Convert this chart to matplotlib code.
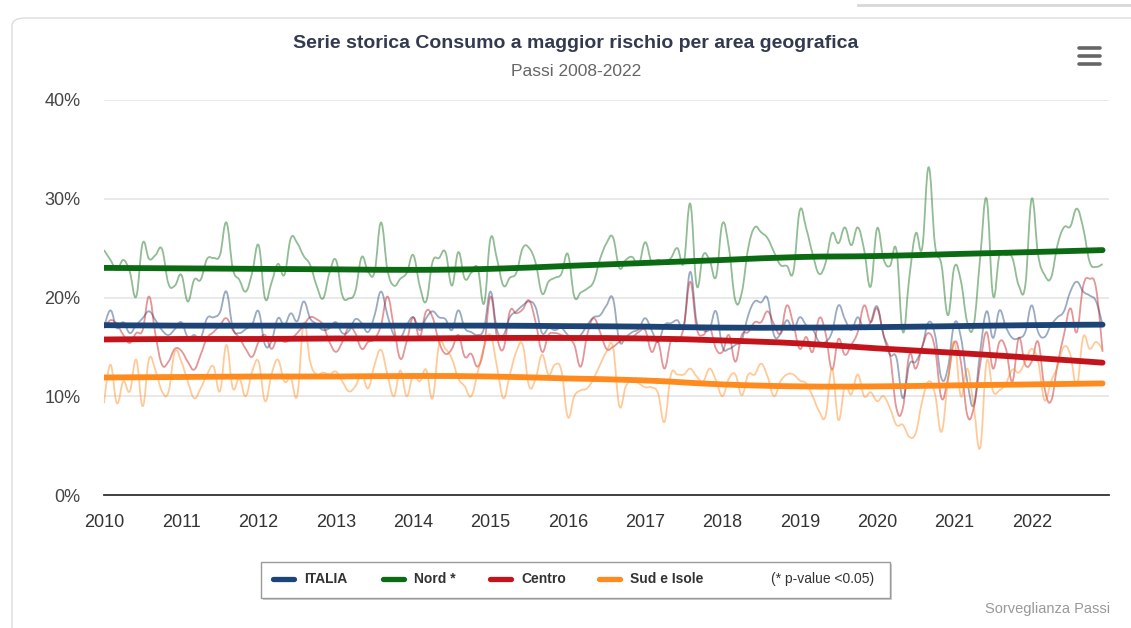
import numpy as np
import matplotlib
matplotlib.use("Agg")
import matplotlib.pyplot as plt
from matplotlib.lines import Line2D
from matplotlib.patches import FancyBboxPatch, Rectangle, PathPatch
from matplotlib.path import Path

plt.rcParams['font.family'] = ['Liberation Sans', 'DejaVu Sans']

# ---------------- data (monthly, Jan 2010 - Dec 2022, %) ----------------
years = [2010, 2011, 2012, 2013, 2014, 2015, 2016, 2017, 2018, 2019, 2020, 2021, 2022]
year_labels = [str(y) for y in years]
series_names = ["ITALIA", "Nord *", "Centro", "Sud e Isole"]

italia = [
    16.9, 18.7, 16.9, 17.5, 16.4, 17.2, 17.9, 18.6, 17.7, 16.7, 16.2, 16.8,
    17.5, 16.0, 16.2, 15.9, 17.9, 18.0, 18.5, 20.6, 16.9, 16.4, 16.8, 17.3,
    18.6, 15.2, 15.6, 17.9, 17.2, 18.4, 17.6, 19.6, 17.9, 17.3, 16.7, 16.9,
    17.5, 16.4, 16.6, 17.8, 17.4, 16.5, 18.2, 20.6, 18.2, 16.2, 15.9, 17.2,
    18.0, 16.7, 17.9, 18.6, 18.0, 17.8, 16.7, 18.7, 16.9, 16.5, 16.2, 16.9,
    20.6, 16.7, 16.2, 18.0, 18.6, 19.2, 19.6, 19.0, 16.4, 16.9, 16.7, 16.9,
    16.2, 15.7, 16.2, 17.2, 18.0, 18.2, 19.2, 19.9, 15.6, 16.0, 16.5, 16.8,
    17.9, 16.7, 15.5, 17.2, 17.4, 17.7, 17.2, 22.6, 17.5, 16.7, 16.8, 18.6,
    15.0, 14.8, 15.2, 15.7, 18.2, 19.6, 19.5, 19.9, 16.2, 16.3, 17.7, 16.7,
    18.0, 17.2, 16.8, 15.5, 15.5, 16.5, 19.2, 17.8, 16.7, 18.0, 16.8, 17.5,
    19.1, 16.2, 14.2, 13.9, 9.8, 13.2, 13.5, 15.0, 17.5, 16.2, 11.8, 12.9,
    17.4, 16.0, 11.5, 9.1, 14.5, 18.6, 15.9, 18.7, 17.0, 15.9, 15.9, 16.5,
    19.2, 16.5, 16.0, 17.2, 18.0, 18.6, 20.6, 21.6, 20.6, 20.2, 19.6, 17.2,
]
nord = [
    24.8, 23.8, 22.8, 23.8, 22.6, 20.1, 25.5, 23.9, 24.3, 24.9, 21.4, 21.2,
    22.3, 19.6, 21.8, 21.8, 23.9, 24.0, 24.3, 27.6, 22.9, 21.8, 20.6, 22.5,
    25.3, 19.9, 21.5, 23.4, 22.3, 26.0, 25.5, 24.2, 23.3, 21.2, 19.9, 22.5,
    23.8, 20.2, 19.9, 20.6, 24.1, 22.6, 22.6, 27.6, 22.8, 21.2, 21.9, 22.5,
    24.3, 21.2, 19.6, 23.6, 24.0, 24.6, 21.2, 24.6, 21.9, 22.5, 23.0, 19.4,
    26.0, 23.9, 21.2, 22.0, 22.5, 25.0, 25.0, 23.5, 20.4, 21.6, 22.0, 22.4,
    24.4, 20.1, 20.5, 20.9, 21.6, 23.9, 25.5, 26.1, 23.0, 23.8, 24.1, 23.3,
    25.6, 23.6, 23.8, 23.6, 24.0, 25.0, 23.5, 29.5, 21.2, 24.3, 23.8, 22.1,
    27.5, 25.0, 19.7, 20.5, 25.0, 27.1, 26.6, 26.0, 24.6, 23.3, 23.2, 22.6,
    28.8, 27.0, 24.4, 22.4, 23.5, 26.5, 25.5, 27.1, 25.3, 27.1, 24.8, 21.1,
    27.0, 23.9, 23.2, 24.8, 16.5, 22.0, 26.5, 25.0, 33.2, 25.3, 23.3, 18.2,
    23.1, 21.7, 17.5, 17.2, 24.0, 30.0, 20.2, 24.3, 24.3, 24.0, 21.2, 21.2,
    30.0, 24.3, 22.3, 22.0, 25.3, 27.1, 27.2, 29.0, 27.0, 23.6, 23.1, 23.4,
]
centro = [
    16.9, 17.7, 17.3, 16.2, 15.4, 16.4, 16.7, 20.1, 16.2, 13.2, 13.5, 14.8,
    14.6, 13.5, 12.7, 14.2, 15.9, 16.5, 17.2, 17.9, 16.7, 15.9, 14.8, 14.0,
    15.5, 16.2, 14.8, 16.0, 15.5, 15.8, 16.4, 17.2, 18.0, 17.8, 17.2, 15.5,
    14.5, 15.5, 17.0, 16.4, 14.8, 15.5, 15.8, 17.2, 20.1, 17.0, 13.8, 15.6,
    18.0, 16.0, 18.6, 18.0, 15.5, 14.3, 14.8, 16.2, 14.0, 14.3, 13.0, 15.0,
    20.1, 16.0, 14.8, 18.6, 18.4, 18.8, 19.7, 17.5, 14.5, 16.2, 16.4, 16.2,
    15.9, 15.2, 13.0, 16.2, 17.9, 16.5, 14.8, 15.0, 15.5, 15.9, 16.0, 16.5,
    16.7, 14.5, 15.5, 12.8, 15.6, 15.6, 17.0, 21.6, 16.9, 16.2, 17.0, 14.8,
    14.5, 16.2, 13.5, 16.2, 16.5, 17.5, 17.5, 18.6, 17.3, 16.4, 19.2, 17.3,
    14.8, 16.0, 14.5, 17.9, 16.4, 12.7, 15.8, 14.2, 15.2, 16.5, 19.2, 17.5,
    18.9, 16.2, 14.2, 8.8, 8.8, 14.2, 12.8, 15.0, 16.4, 14.8, 9.8, 11.8,
    15.5, 13.5, 8.1, 8.8, 13.2, 16.5, 12.8, 15.5, 14.8, 11.5, 15.9, 13.2,
    13.5, 15.5, 10.8, 9.5, 13.2, 16.2, 18.9, 16.5, 21.2, 21.9, 20.9, 14.5,
]
sud = [
    9.3, 13.2, 9.3, 11.5, 10.5, 13.7, 9.0, 13.8, 12.6, 10.5, 10.4, 14.5,
    13.5, 11.5, 9.8, 10.8, 12.2, 13.0, 10.5, 15.2, 10.8, 11.8, 10.0, 12.5,
    13.5, 9.5, 12.2, 13.7, 11.5, 11.8, 10.1, 17.4, 13.5, 12.2, 12.4, 12.2,
    12.5, 11.5, 10.5, 11.0, 12.2, 10.8, 13.2, 14.7, 12.2, 10.0, 12.6, 10.0,
    12.2, 11.5, 12.7, 9.8, 15.2, 14.8, 13.8, 11.8, 11.0, 10.0, 12.4, 15.0,
    16.2, 13.0, 9.8, 12.2, 14.5, 15.2, 11.0, 11.8, 14.2, 12.2, 13.2, 12.6,
    7.9, 10.0, 10.6, 10.8, 11.8, 13.2, 14.5, 15.0, 9.0, 11.0, 11.6, 11.3,
    10.9, 10.9, 10.3, 7.4, 12.2, 12.2, 12.2, 12.8, 12.0, 11.5, 12.8, 11.6,
    10.0, 11.8, 12.2, 10.1, 12.2, 12.2, 13.3, 12.0, 10.0, 11.5, 12.2, 12.2,
    11.6, 11.3, 10.0, 8.5, 8.0, 12.8, 7.6, 11.0, 10.2, 12.2, 10.0, 10.4,
    9.5, 10.0, 8.8, 7.1, 7.1, 5.9, 6.3, 9.5, 11.5, 10.2, 6.4, 11.5,
    15.5, 10.0, 12.8, 9.0, 4.8, 13.5, 10.5, 10.6, 11.3, 12.7, 12.4, 13.5,
    14.8, 13.5, 9.6, 11.5, 13.0, 15.0, 14.2, 11.1, 16.0, 14.8, 15.5, 14.7,
]

# trend lines (values at each January and at the last month)
trend_month = [0, 12, 24, 36, 48, 60, 72, 84, 96, 108, 120, 132, 144, 155]
trend_italia = [17.2, 17.15, 17.15, 17.15, 17.15, 17.15, 17.1, 17.05, 16.95, 16.95, 17.0, 17.1, 17.2, 17.25]
trend_nord = [23.0, 22.95, 22.9, 22.85, 22.8, 22.9, 23.2, 23.5, 23.8, 24.1, 24.2, 24.4, 24.6, 24.8]
trend_centro = [15.75, 15.8, 15.8, 15.85, 15.85, 15.9, 15.9, 15.85, 15.65, 15.35, 14.85, 14.4, 13.9, 13.4]
trend_sud = [11.9, 11.95, 12.0, 12.0, 12.05, 12.0, 11.8, 11.6, 11.2, 11.0, 11.0, 11.1, 11.2, 11.3]

colors = ["#1d4477", "#0b6b12", "#c4141b", "#ff8a1e"]


def spline_path(xs, ys, smoothing=1.5):
    """Cubic Bezier path through the points (Highcharts-like 'spline' rendering)."""
    xs = np.asarray(xs, float)
    ys = np.asarray(ys, float)
    n = len(xs)
    verts = [(xs[0], ys[0])]
    codes = [Path.MOVETO]
    d = smoothing + 1.0

    def ctrl(i):
        # left and right control points around point i
        if i == 0 or i == n - 1:
            return (xs[i], ys[i]), (xs[i], ys[i])
        lx = (smoothing * xs[i] + xs[i - 1]) / d
        ly = (smoothing * ys[i] + ys[i - 1]) / d
        rx = (smoothing * xs[i] + xs[i + 1]) / d
        ry = (smoothing * ys[i] + ys[i + 1]) / d
        if rx != lx:
            slope = (ry - ly) / (rx - lx)
            cor = (ly - ry) if False else None
            # align control points on one line through the point
            ly2 = ys[i] + slope * (lx - xs[i])
            ry2 = ys[i] + slope * (rx - xs[i])
            ly, ry = ly2, ry2
        return (lx, ly), (rx, ry)

    cps = [ctrl(i) for i in range(n)]
    for i in range(1, n):
        verts.extend([cps[i - 1][1], cps[i][0], (xs[i], ys[i])])
        codes.extend([Path.CURVE4, Path.CURVE4, Path.CURVE4])
    return Path(verts, codes)


# ---------------- figure ----------------
W, H = 1131, 628
fig = plt.figure(figsize=(W / 100, H / 100), dpi=100)
fig.patch.set_facecolor("white")


def fx(px):
    return px / W


def fy(py):
    return 1 - py / H


# card border
card = FancyBboxPatch((fx(12), fy(700)), fx(1200), fy(18) - fy(700),
                      boxstyle="round,pad=0,rounding_size=0.012",
                      transform=fig.transFigure, facecolor="none",
                      edgecolor="#dcdcdc", linewidth=1.0, zorder=0)
fig.patches.append(card)
fig.add_artist(Line2D([fx(858), fx(1131)], [fy(5), fy(5)], transform=fig.transFigure,
                      color="#d8d8d8", lw=2))

left, right, top, bottom = 104, 1109, 100, 495
ax = fig.add_axes([fx(left), fy(bottom), fx(right - left), fy(top) - fy(bottom)])
ax.set_xlim(0, 156)
ax.set_ylim(0, 40)

months = np.arange(len(italia))
all_series = [italia, nord, centro, sud]
all_trends = [trend_italia, trend_nord, trend_centro, trend_sud]
for s, c in zip(all_series, colors):
    p = PathPatch(spline_path(months, s), facecolor="none", edgecolor=c, lw=1.3,
                  alpha=0.45, zorder=2, joinstyle="round")
    ax.add_patch(p)
for t, c in zip(all_trends, colors):
    p = PathPatch(spline_path(trend_month, t), facecolor="none", edgecolor=c, lw=4.2,
                  zorder=4, capstyle="round", joinstyle="round")
    ax.add_patch(p)

ax.set_yticks([0, 10, 20, 30, 40])
ax.set_yticklabels(["0%", "10%", "20%", "30%", "40%"])
ax.set_xticks([12 * i for i in range(len(years))])
ax.set_xticklabels(year_labels)
ax.grid(axis="y", color="#e3e3e3", lw=1.1, zorder=0)
ax.set_axisbelow(True)
for sp in ["top", "right", "left"]:
    ax.spines[sp].set_visible(False)
ax.spines["bottom"].set_color("#333333")
ax.spines["bottom"].set_linewidth(1.3)
ax.spines["bottom"].set_zorder(5)
ax.tick_params(axis="y", length=0, pad=17, labelsize=13, labelcolor="#444444")
ax.tick_params(axis="x", length=0, pad=14, labelsize=13, labelcolor="#333333")

# titles
fig.text(fx(576), fy(43), "Serie storica Consumo a maggior rischio per area geografica",
         ha="center", va="center", fontsize=14, fontweight="bold", color="#333a4f")
fig.text(fx(576), fy(72), "Passi 2008-2022", ha="center", va="center",
         fontsize=12.5, color="#666666")
fig.text(fx(1110), fy(609), "Sorveglianza Passi", ha="right", va="center",
         fontsize=10.5, color="#999999")

# hamburger menu
for yy in (48, 56, 64):
    fig.add_artist(Line2D([fx(1079), fx(1100)], [fy(yy), fy(yy)], transform=fig.transFigure,
                          color="#666666", lw=2.6, solid_capstyle="round"))

# legend box
lx0, lx1, ly0, ly1 = 261, 890, 562, 598
shadow = Rectangle((fx(lx0 + 2), fy(ly1 + 2)), fx(lx1 - lx0), fy(ly0) - fy(ly1),
                   transform=fig.transFigure, facecolor="#cfcfcf", edgecolor="none", zorder=1)
box = Rectangle((fx(lx0), fy(ly1)), fx(lx1 - lx0), fy(ly0) - fy(ly1),
                transform=fig.transFigure, facecolor="white", edgecolor="#9a9a9a", lw=1.0, zorder=2)
fig.patches.extend([shadow, box])
leg_line_x = [273, 383, 490, 599]
leg_y = 579
for name, c, x0 in zip(series_names, colors, leg_line_x):
    fig.add_artist(Line2D([fx(x0), fx(x0 + 21)], [fy(leg_y), fy(leg_y)], transform=fig.transFigure,
                          color=c, lw=3.8, solid_capstyle="round", zorder=3))
    fig.text(fx(x0 + 31), fy(leg_y), name, ha="left", va="center", fontsize=10,
             fontweight="bold", color="#333333", zorder=3)
fig.text(fx(771), fy(leg_y), "(* p-value <0.05)", ha="left", va="center", fontsize=10,
         color="#333333", zorder=3)

fig.savefig("out.png", dpi=100, facecolor="white")
